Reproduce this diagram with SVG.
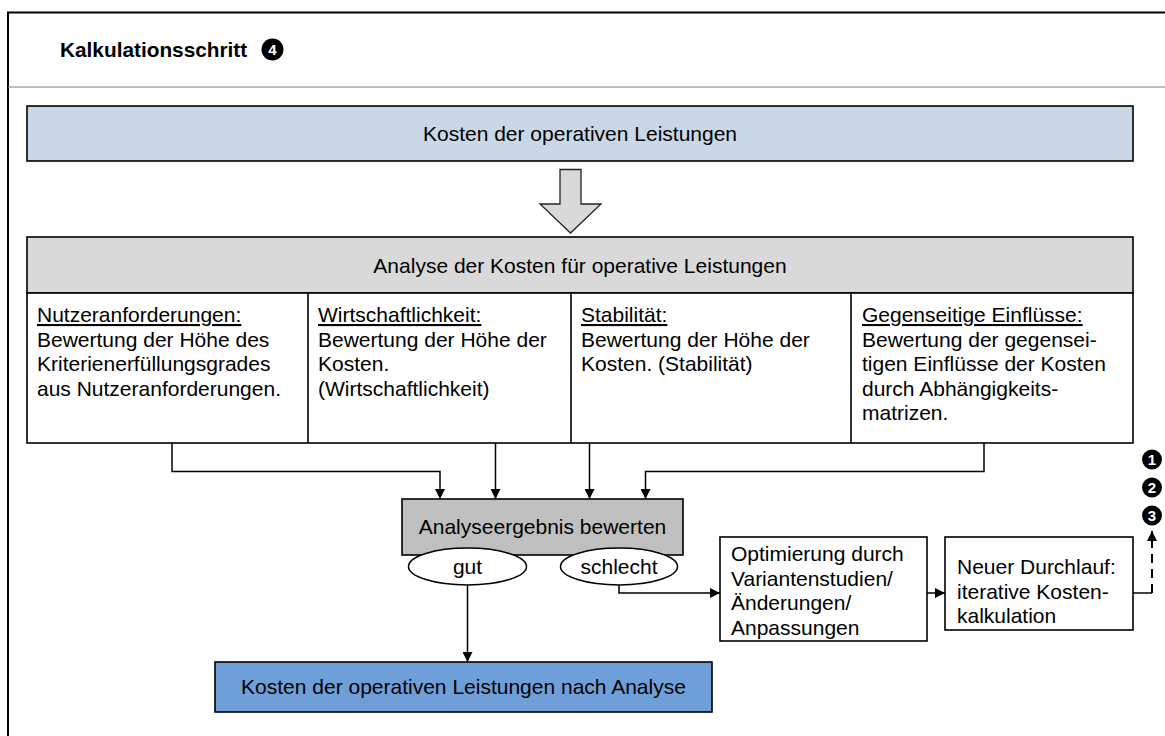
<svg xmlns="http://www.w3.org/2000/svg" width="1165" height="736" viewBox="0 0 1165 736">
  <defs>
    <style>
      text { font-family: "Liberation Sans", Arial, sans-serif; fill: #000; }
      .t { font-size: 21px; }
      .c { text-anchor: middle; }
      .title { font-size: 20.8px; font-weight: bold; }
      .num { font-size: 15px; font-weight: bold; fill: #fff; text-anchor: middle; }
      .u { text-decoration: underline; }
      .box { stroke: #000; stroke-width: 1.6; }
      .conn { fill: none; stroke: #000; stroke-width: 1.5; }
      .dash { fill: none; stroke: #000; stroke-width: 2; stroke-dasharray: 9 6; }
    </style>
    <marker id="ah" viewBox="0 0 10 10" refX="10" refY="5" markerWidth="11" markerHeight="10" markerUnits="userSpaceOnUse" orient="auto">
      <path d="M0,0 L10,5 L0,10 Z" fill="#000"/>
    </marker>
    <marker id="ah2" viewBox="0 0 10 10" refX="10" refY="5" markerWidth="11" markerHeight="10" markerUnits="userSpaceOnUse" orient="auto">
      <path d="M0,0 L10,5 L0,10 Z" fill="#000"/>
    </marker>
  </defs>

  <rect x="0" y="0" width="1165" height="736" fill="#fff"/>

  <!-- frame and header -->
  <g id="frame">
    <path d="M8,736 V12.5 H1165" fill="none" stroke="#000" stroke-width="2"/>
    <line x1="8" y1="87" x2="1165" y2="87" stroke="#7f7f7f" stroke-width="1.2"/>
    <text class="title" x="60" y="57">Kalkulationsschritt</text>
    <circle cx="272.5" cy="49.5" r="11" fill="#000"/>
    <text class="num" x="272.5" y="55">4</text>
  </g>

  <g id="kosten-operativ">
    <rect class="box" x="27" y="106" width="1106" height="55" fill="#c9d7e7" stroke-width="2"/>
    <text class="t c" x="580" y="141">Kosten der operativen Leistungen</text>
  </g>

  <g id="transfer-arrow">
    <path d="M560,169.5 H581 V204 H601 L570.5,233 L540,204 H560 Z" fill="#d9d9d9" stroke="#222" stroke-width="1.3"/>
  </g>

  <g id="analyse">
    <rect class="box" x="27" y="237" width="1106" height="56" fill="#d9d9d9" stroke-width="2"/>
    <text class="t c" x="580" y="273">Analyse der Kosten für operative Leistungen</text>
    <rect class="box" x="27" y="293" width="1106" height="150" fill="#fff"/>
    <line class="box" x1="308" y1="293" x2="308" y2="443"/>
    <line class="box" x1="571" y1="293" x2="571" y2="443"/>
    <line class="box" x1="851" y1="293" x2="851" y2="443"/>
  </g>

  <g id="nutzeranforderungen">
    <text class="t" x="37" y="322"><tspan class="u">Nutzeranforderungen:</tspan><tspan x="37" dy="24.5">Bewertung der Höhe des</tspan><tspan x="37" dy="24.5">Kriterienerfüllungsgrades</tspan><tspan x="37" dy="24.5">aus Nutzeranforderungen.</tspan></text>
  </g>
  <g id="wirtschaftlichkeit">
    <text class="t" x="318" y="322"><tspan class="u">Wirtschaftlichkeit:</tspan><tspan x="318" dy="24.5">Bewertung der Höhe der</tspan><tspan x="318" dy="24.5">Kosten.</tspan><tspan x="318" dy="24.5">(Wirtschaftlichkeit)</tspan></text>
  </g>
  <g id="stabilitaet">
    <text class="t" x="581" y="322"><tspan class="u">Stabilität:</tspan><tspan x="581" dy="24.5">Bewertung der Höhe der</tspan><tspan x="581" dy="24.5">Kosten. (Stabilität)</tspan></text>
  </g>
  <g id="einfluesse">
    <text class="t" x="862" y="322"><tspan class="u">Gegenseitige Einflüsse:</tspan><tspan x="862" dy="24.5">Bewertung der gegensei-</tspan><tspan x="862" dy="24.5">tigen Einflüsse der Kosten</tspan><tspan x="862" dy="24.5">durch Abhängigkeits-</tspan><tspan x="862" dy="24.5">matrizen.</tspan></text>
  </g>

  <g id="bewerten">
    <rect class="box" x="402" y="499" width="281" height="56" fill="#bfbfbf"/>
    <text class="t c" x="542.5" y="534">Analyseergebnis bewerten</text>
  </g>
  <g id="gut">
    <ellipse cx="467.5" cy="566.5" rx="59" ry="18.5" fill="#fff" stroke="#000" stroke-width="1.5"/>
    <text class="t c" x="467.5" y="573.5">gut</text>
  </g>
  <g id="schlecht">
    <ellipse cx="619" cy="566.5" rx="58.5" ry="18.5" fill="#fff" stroke="#000" stroke-width="1.5"/>
    <text class="t c" x="619" y="573.5">schlecht</text>
  </g>

  <g id="optimierung">
    <rect class="box" x="720" y="537" width="207" height="104" fill="#fff"/>
    <text class="t" x="731" y="561"><tspan>Optimierung durch</tspan><tspan x="731" dy="24.5">Variantenstudien/</tspan><tspan x="731" dy="24.5">Änderungen/</tspan><tspan x="731" dy="24.5">Anpassungen</tspan></text>
  </g>

  <g id="neuer-durchlauf">
    <rect class="box" x="945" y="537" width="188" height="93" fill="#fff"/>
    <text class="t" x="957" y="574"><tspan>Neuer Durchlauf:</tspan><tspan x="957" dy="24.5">iterative Kosten-</tspan><tspan x="957" dy="24.5">kalkulation</tspan></text>
  </g>

  <g id="schritte">
    <circle cx="1152" cy="459.5" r="10" fill="#000"/>
    <text class="num" x="1152" y="465">1</text>
    <circle cx="1152" cy="487.5" r="10" fill="#000"/>
    <text class="num" x="1152" y="493">2</text>
    <circle cx="1152" cy="515.5" r="10" fill="#000"/>
    <text class="num" x="1152" y="521">3</text>
  </g>

  <g id="kosten-nach-analyse">
    <rect class="box" x="215" y="662" width="497" height="50" fill="#6f9fd8"/>
    <text class="t c" x="463.5" y="694">Kosten der operativen Leistungen nach Analyse</text>
  </g>

  <g id="connectors">
    <path class="conn" d="M172,443 V471.5 H440 V499" marker-end="url(#ah)"/>
    <path class="conn" d="M495.5,443 V499" marker-end="url(#ah)"/>
    <path class="conn" d="M589.5,443 V499" marker-end="url(#ah)"/>
    <path class="conn" d="M984,443 V471.5 H645.5 V499" marker-end="url(#ah)"/>
    <path class="conn" d="M467.5,585 V662" marker-end="url(#ah)"/>
    <path class="conn" d="M619,585 V593 H720" marker-end="url(#ah)"/>
    <path class="conn" d="M927,593 H945" marker-end="url(#ah)"/>
    <path class="conn" d="M1133,593 H1152" stroke-width="2"/>
    <path class="dash" d="M1152,593 V531" marker-end="url(#ah2)"/>
  </g>
</svg>
